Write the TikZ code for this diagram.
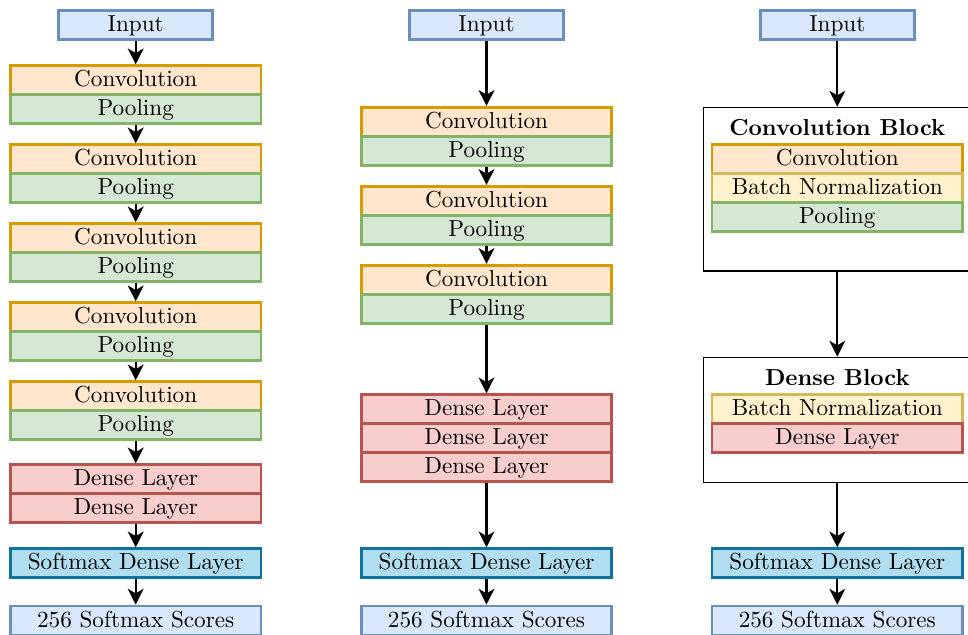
\documentclass[tikz,border=0pt]{standalone}
\usetikzlibrary{arrows.meta}
\definecolor{convfill}{HTML}{FFE6CC}\definecolor{convdraw}{HTML}{D79B00}
\definecolor{poolfill}{HTML}{D5E8D4}\definecolor{pooldraw}{HTML}{82B366}
\definecolor{infill}{HTML}{DAE8FC}\definecolor{indraw}{HTML}{6C8EBF}
\definecolor{densefill}{HTML}{F8CECC}\definecolor{densedraw}{HTML}{B85450}
\definecolor{bnfill}{HTML}{FFF2CC}\definecolor{bndraw}{HTML}{D6B656}
\definecolor{smfill}{HTML}{B1DDF0}\definecolor{smdraw}{HTML}{10739E}
\begin{document}
\begin{tikzpicture}[x=0.4424pt,y=-0.4424pt,
  every node/.style={font=\fontsize{10.25pt}{12pt}\selectfont},
  layer/.style={draw,line width=1.2pt,inner sep=0pt,minimum width=110.82pt,minimum height=12.83pt,text height=1.6ex,text depth=0.25ex},
  conv/.style={layer,fill=convfill,draw=convdraw},
  pool/.style={layer,fill=poolfill,draw=pooldraw},
  dense/.style={layer,fill=densefill,draw=densedraw},
  bn/.style={layer,fill=bnfill,draw=bndraw},
  smax/.style={layer,fill=smfill,draw=smdraw},
  score/.style={layer,fill=infill,draw=indraw},
  inbox/.style={layer,fill=infill,draw=indraw,minimum width=68.13pt},
  blockbox/.style={draw,line width=0.75pt,inner sep=0pt,minimum width=118.4pt},
  title/.style={font=\fontsize{10.25pt}{12pt}\selectfont\bfseries,inner sep=0pt},
  arr/.style={-{Stealth[length=7pt,width=7pt,inset=2pt]},line width=0.9pt}]
\useasboundingbox (0,0) rectangle (968,635);
% ---------------- column 1 ----------------
\node[inbox] (a0) at (135.7,25) {Input};
\node[conv] (ac1) at (135.7,80.2) {Convolution};
\node[pool] (ap1) at (135.7,109.2) {Pooling};
\node[conv] (ac2) at (135.7,159.2) {Convolution};
\node[pool] (ap2) at (135.7,188.2) {Pooling};
\node[conv] (ac3) at (135.7,238.2) {Convolution};
\node[pool] (ap3) at (135.7,267.2) {Pooling};
\node[conv] (ac4) at (135.7,317.2) {Convolution};
\node[pool] (ap4) at (135.7,346.2) {Pooling};
\node[conv] (ac5) at (135.7,396.2) {Convolution};
\node[pool] (ap5) at (135.7,425.2) {Pooling};
\node[dense] (ad1) at (135.7,479.2) {Dense Layer};
\node[dense] (ad2) at (135.7,508.2) {Dense Layer};
\node[smax] (as) at (135.7,563.2) {Softmax Dense Layer};
\node[score] (ao) at (135.7,620.5) {256 Softmax Scores};
\draw[arr] (a0) -- (ac1);
\draw[arr] (ap1) -- (ac2);
\draw[arr] (ap2) -- (ac3);
\draw[arr] (ap3) -- (ac4);
\draw[arr] (ap4) -- (ac5);
\draw[arr] (ap5) -- (ad1);
\draw[arr] (ad2) -- (as);
\draw[arr] (as) -- (ao);
% ---------------- column 2 ----------------
\node[inbox] (b0) at (486.5,25) {Input};
\node[conv] (bc1) at (486.5,121.8) {Convolution};
\node[pool] (bp1) at (486.5,150.8) {Pooling};
\node[conv] (bc2) at (486.5,200.8) {Convolution};
\node[pool] (bp2) at (486.5,229.8) {Pooling};
\node[conv] (bc3) at (486.5,279.8) {Convolution};
\node[pool] (bp3) at (486.5,308.8) {Pooling};
\node[dense] (bd1) at (486.5,409.2) {Dense Layer};
\node[dense] (bd2) at (486.5,438.2) {Dense Layer};
\node[dense] (bd3) at (486.5,467.2) {Dense Layer};
\node[smax] (bs) at (486.5,563.2) {Softmax Dense Layer};
\node[score] (bo) at (486.5,620.5) {256 Softmax Scores};
\draw[arr] (b0) -- (bc1);
\draw[arr] (bp1) -- (bc2);
\draw[arr] (bp2) -- (bc3);
\draw[arr] (bp3) -- (bd1);
\draw[arr] (bd3) -- (bs);
\draw[arr] (bs) -- (bo);
% ---------------- column 3 ----------------
\node[inbox] (c0) at (837.3,25) {Input};
\node[blockbox,minimum height=72.33pt] (cb) at (837.3,189.25) {};
\node[title] (cbt) at (837.3,128) {Convolution Block};
\node[conv] (cc) at (837.3,159.2) {Convolution};
\node[bn] (cn1) at (837.3,188.2) {Batch Normalization};
\node[pool] (cp) at (837.3,217.2) {Pooling};
\node[blockbox,minimum height=55.3pt] (db) at (837.3,420) {};
\node[title] (dbt) at (837.3,378) {Dense Block};
\node[bn] (cn2) at (837.3,409.2) {Batch Normalization};
\node[dense] (cd) at (837.3,438.2) {Dense Layer};
\node[smax] (cs) at (837.3,563.2) {Softmax Dense Layer};
\node[score] (co) at (837.3,620.5) {256 Softmax Scores};
\draw[arr] (c0) -- (cb);
\draw[arr] (cb) -- (db);
\draw[arr] (db) -- (cs);
\draw[arr] (cs) -- (co);
\end{tikzpicture}
\end{document}
